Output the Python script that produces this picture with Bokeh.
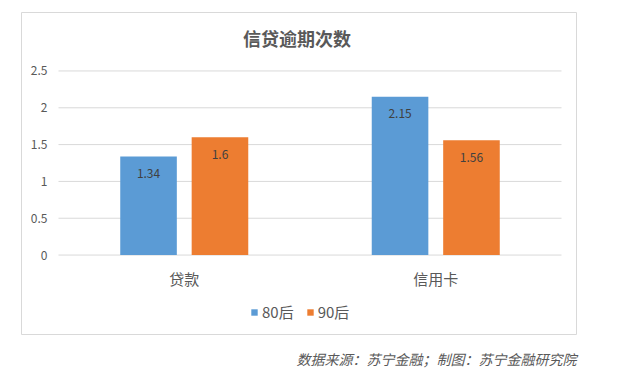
from bokeh.plotting import figure
from bokeh.models import (ColumnDataSource, Range1d, Label, Legend, LegendItem, Title)
from bokeh.transform import dodge
from bokeh.embed import file_html
from bokeh.resources import INLINE
from bokeh.core.properties import value

categories = ["贷款", "信用卡"]
series_names = ["80后", "90后"]
values_80 = [1.34, 2.15]
values_90 = [1.6, 1.56]
labels_80 = ["1.34", "2.15"]
labels_90 = ["1.6", "1.56"]
y_ticks = [0, 0.5, 1, 1.5, 2, 2.5]
y_tick_labels = ["0", "0.5", "1", "1.5", "2", "2.5"]

title_text = "信贷逾期次数"
footer_text = "数据来源：苏宁金融；制图：苏宁金融研究院"

BLUE = "#5B9BD5"
ORANGE = "#ED7D31"
GRID = "#D9D9D9"
TXT = "#595959"
CJK = "Noto Sans CJK SC"

n = len(categories)
cat_x = [i + 0.5 for i in range(n)]

src = ColumnDataSource(dict(x=cat_x, cat=categories, v80=values_80, v90=values_90,
                            l80=labels_80, l90=labels_90))
grid_src = ColumnDataSource(dict(y=y_ticks, lab=y_tick_labels,
                                 x0=[0] * len(y_ticks), x1=[n] * len(y_ticks)))

# frame = the outer chart box; plot area spans x in [0, n], y in [0, 2.5]
p = figure(width=600, height=380,
           x_range=Range1d(-0.1471, n + 0.0596), y_range=Range1d(-1.079, 3.294),
           x_axis_type=None, y_axis_type=None,
           output_backend="svg", toolbar_location=None,
           min_border_left=21, min_border_right=24, min_border_top=12, min_border_bottom=45)
p.outline_line_color = GRID
p.outline_line_width = 1
p.background_fill_color = "white"
p.border_fill_color = "white"
p.xgrid.visible = False
p.ygrid.visible = False

# horizontal gridlines (value axis)
p.segment(x0="x0", x1="x1", y0="y", y1="y", source=grid_src, line_color=GRID, line_width=1)
# y tick labels
p.text(x="x0", y="y", text="lab", source=grid_src, x_offset=-11,
       text_align="right", text_baseline="middle",
       text_font=value(CJK), text_font_size="12px", text_color=TXT)

r80 = p.vbar(x=dodge("x", -0.142), top="v80", width=0.225, source=src,
             fill_color=BLUE, line_color=None)
r90 = p.vbar(x=dodge("x", 0.142), top="v90", width=0.225, source=src,
             fill_color=ORANGE, line_color=None)

# value labels
p.text(x=dodge("x", -0.142), y="v80", text="l80", source=src,
       text_align="center", text_baseline="middle", y_offset=17,
       text_font=value(CJK), text_font_size="12px", text_color="#404040")
p.text(x=dodge("x", 0.142), y="v90", text="l90", source=src,
       text_align="center", text_baseline="middle", y_offset=17,
       text_font=value(CJK), text_font_size="12px", text_color="#404040")

# category labels
p.text(x="x", y=0, text="cat", source=src, y_offset=23,
       text_align="center", text_baseline="middle",
       text_font=value(CJK), text_font_size="15px", text_color=TXT)

# chart title (inside the box)
p.add_layout(Label(x=275.5, y=296.5, x_units="screen", y_units="screen", text=title_text,
                   text_align="center", text_baseline="middle", text_font=CJK,
                   text_font_size="18px", text_font_style="bold", text_color=TXT))

legend = Legend(items=[LegendItem(label=series_names[0], renderers=[r80]),
                       LegendItem(label=series_names[1], renderers=[r90])],
                location=(229, 12), orientation="horizontal",
                glyph_width=8, glyph_height=8, label_text_font=CJK,
                label_text_font_size="15px", label_text_color=TXT,
                padding=0, margin=0, spacing=12, label_standoff=4,
                border_line_color=None, background_fill_alpha=0)
p.add_layout(legend, "center")

# source note under the box
p.add_layout(Title(text=footer_text, align="right", text_font=CJK, text_font_size="14px",
                   text_font_style="italic", text_color=TXT, standoff=24), "below")

open("out.html", "w").write(file_html(p, INLINE))
